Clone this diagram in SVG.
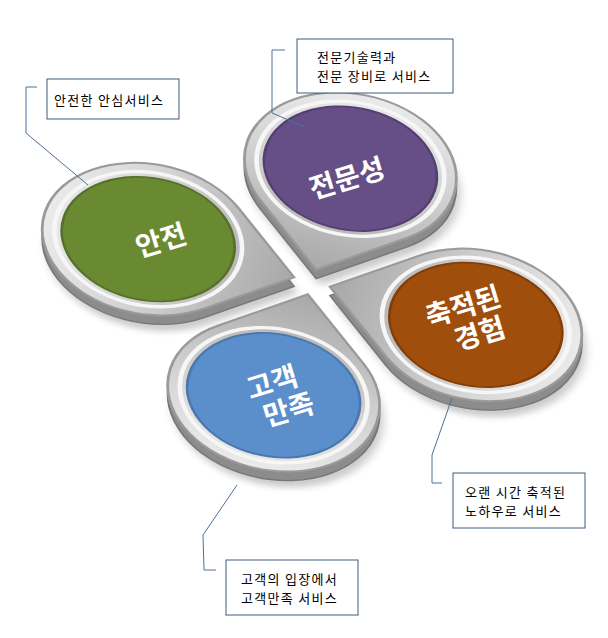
<svg xmlns="http://www.w3.org/2000/svg" width="608" height="638" viewBox="0 0 608 638">
<style>
.lbl{font-family:"Noto Sans CJK KR","Noto Sans",sans-serif;font-size:13px;letter-spacing:1.3px;fill:#000}
.big{font-family:"Noto Sans CJK KR","Noto Sans",sans-serif;font-size:28px;font-weight:bold;fill:#fff}
.box{fill:#fff;stroke:#3f5a7f;stroke-width:1}
.con{fill:none;stroke:#4f6f9a;stroke-width:1}
.shadow{fill:#000;opacity:0.2}
.side{fill:#8c8c8c;stroke:#777;stroke-width:2}
.base{fill:url(#silver);stroke:#9a9a9a;stroke-width:3}
.rim{fill:none;stroke:#f6f6f6;stroke-width:5}
</style>
<defs>
<linearGradient id="silver" x1="0" y1="0" x2="1" y2="1">
<stop offset="0" stop-color="#f4f4f4"/><stop offset="0.5" stop-color="#d3d3d3"/><stop offset="1" stop-color="#a8a8a8"/>
</linearGradient>
<filter id="blur" x="-20%" y="-20%" width="140%" height="140%"><feGaussianBlur stdDeviation="5"/></filter>
<path id="drop" d="M -14 -128 L -14 -14 L -128 -14 A 114 114 0 1 1 -14 -128 Z"/>
</defs>
<g id="node-safety">
<g transform="translate(4 16) matrix(0.79 -0.275 0.49 0.61 312 282)"><use href="#drop" class="shadow" filter="url(#blur)"/></g>
<g transform="translate(0 9) matrix(0.79 -0.275 0.49 0.61 312 282)"><use href="#drop" class="side"/></g>
<g transform="matrix(0.79 -0.275 0.49 0.61 312 282)"><use href="#drop" class="base"/><circle cx="-128" cy="-128" r="101" class="rim"/><circle cx="-128" cy="-128" r="93" fill="#6a8a32" stroke="#56712a" stroke-width="3"/></g>
</g>
<g id="node-expert">
<g transform="translate(4 16) matrix(0.79 -0.275 0.49 0.61 312 282) rotate(90)"><use href="#drop" class="shadow" filter="url(#blur)"/></g>
<g transform="translate(0 9) matrix(0.79 -0.275 0.49 0.61 312 282) rotate(90)"><use href="#drop" class="side"/></g>
<g transform="matrix(0.79 -0.275 0.49 0.61 312 282) rotate(90)"><use href="#drop" class="base"/><circle cx="-128" cy="-128" r="101" class="rim"/><circle cx="-128" cy="-128" r="93" fill="#664f86" stroke="#54406f" stroke-width="3"/></g>
</g>
<g id="node-experience">
<g transform="translate(4 16) matrix(0.79 -0.275 0.49 0.61 312 282) rotate(180)"><use href="#drop" class="shadow" filter="url(#blur)"/></g>
<g transform="translate(0 9) matrix(0.79 -0.275 0.49 0.61 312 282) rotate(180)"><use href="#drop" class="side"/></g>
<g transform="matrix(0.79 -0.275 0.49 0.61 312 282) rotate(180)"><use href="#drop" class="base"/><circle cx="-128" cy="-128" r="101" class="rim"/><circle cx="-128" cy="-128" r="93" fill="#a04e0c" stroke="#843f08" stroke-width="3"/></g>
</g>
<g id="node-customer">
<g transform="translate(4 16) matrix(0.79 -0.275 0.49 0.61 312 282) rotate(270)"><use href="#drop" class="shadow" filter="url(#blur)"/></g>
<g transform="translate(0 9) matrix(0.79 -0.275 0.49 0.61 312 282) rotate(270)"><use href="#drop" class="side"/></g>
<g transform="matrix(0.79 -0.275 0.49 0.61 312 282) rotate(270)"><use href="#drop" class="base"/><circle cx="-128" cy="-128" r="101" class="rim"/><circle cx="-128" cy="-128" r="93" fill="#5a8fcc" stroke="#4a78ae" stroke-width="3"/></g>
</g>
<g id="titles">
<text class="big" text-anchor="middle" transform="translate(164 250) rotate(-17)">안전</text>
<text class="big" text-anchor="middle" transform="translate(350 188) rotate(-17)">전문성</text>
<text class="big" text-anchor="middle" transform="translate(466 316) rotate(-17)">축적된<tspan x="8" dy="31">경험</tspan></text>
<text class="big" text-anchor="middle" transform="translate(275 392) rotate(-17)">고객<tspan x="8" dy="31">만족</tspan></text>
</g>
<g id="connectors">
<polyline class="con" points="37,87 26,87 26,133 88,185"/>
<polyline class="con" points="285,50 272,50 272,113 305,127"/>
<polyline class="con" points="452,398 432,455 432,483 442,483"/>
<polyline class="con" points="237,485 203,535 204,570 216,570"/>
</g>
<g id="callout-safety"><rect class="box" x="47" y="79" width="132" height="40"/><text class="lbl" x="54" y="105">안전한 안심서비스</text></g>
<g id="callout-expert"><rect class="box" x="297" y="39" width="156" height="54"/><text class="lbl" x="317" y="62">전문기술력과</text><text class="lbl" x="317" y="81">전문 장비로 서비스</text></g>
<g id="callout-experience"><rect class="box" x="453" y="473" width="132" height="55"/><text class="lbl" x="465" y="497">오랜 시간 축적된</text><text class="lbl" x="465" y="516">노하우로 서비스</text></g>
<g id="callout-customer"><rect class="box" x="226" y="560" width="132" height="55"/><text class="lbl" x="241" y="584">고객의 입장에서</text><text class="lbl" x="241" y="603">고객만족 서비스</text></g>
</svg>
